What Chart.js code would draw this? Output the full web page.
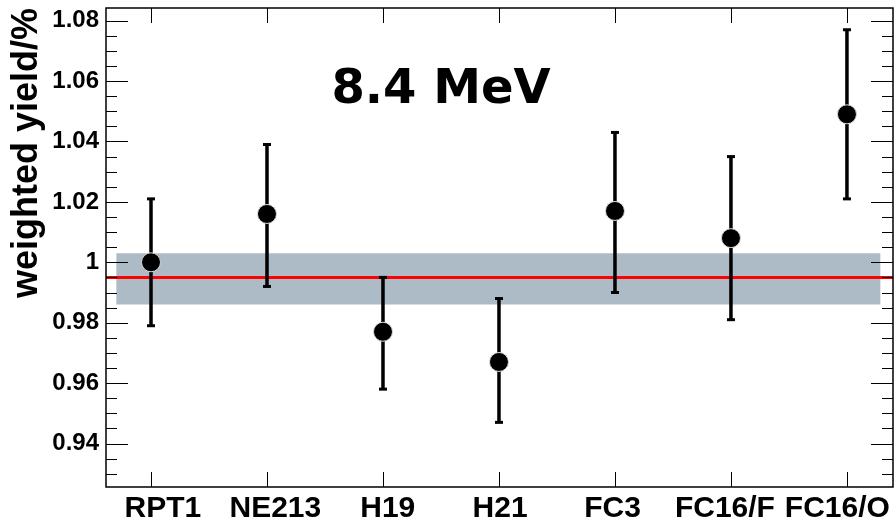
<!DOCTYPE html>
<html>
<head>
<meta charset="utf-8">
<script src="https://cdn.jsdelivr.net/npm/chart.js@4/dist/chart.umd.min.js"></script>
<style>
  body { margin: 0; background: #fff; }
  canvas { display: block; }
</style>
</head>
<body>
<canvas id="yieldChart" width="894" height="522"></canvas>
<script>
// detectors
const categories = ["RPT1", "NE213", "H19", "H21", "FC3", "FC16/F", "FC16/O"];
// weighted yield and error bar ends
const yields = [1.000, 1.016, 0.977, 0.967, 1.017, 1.008, 1.049];
const upper = [1.021, 1.039, 0.995, 0.988, 1.043, 1.035, 1.077];
const lower = [0.979, 0.992, 0.958, 0.947, 0.990, 0.981, 1.021];
// weighted mean and its uncertainty band
const meanValue = 0.995;
const bandHigh = 1.003;
const bandLow = 0.986;
const bandRange = [-0.3, 6.29];
// y axis
const yTicks = [0.94, 0.96, 0.98, 1.00, 1.02, 1.04, 1.06, 1.08];
const yTickLabels = ["0.94", "0.96", "0.98", "1", "1.02", "1.04", "1.06", "1.08"];
const yMin = 0.9256, yMax = 1.0842;
const xMin = -0.388, xMax = 6.397;
// labels sit on a slightly tighter grid than the points (as in the original)
const labelStart = 0.103, labelStep = 0.969;

const points = categories.map((c, i) => ({ x: i, y: yields[i] }));
const errBars = [];
categories.forEach((c, i) => {
  errBars.push({ x: i, y: lower[i] });
  errBars.push({ x: i, y: upper[i] });
  errBars.push({ x: i, y: null });
});

// ROOT style frame with inward ticks
const frameTicks = {
  id: "frameTicks",
  afterDatasetsDraw(chart) {
    const { ctx, chartArea: a, scales } = chart;
    const y = scales.y, x = scales.x;
    ctx.save();
    ctx.strokeStyle = "#000";
    ctx.lineWidth = 1;
    ctx.beginPath();
    for (let v = 0.93; v <= 1.0801; v += 0.005) {
      const py = Math.round(y.getPixelForValue(v)) + 0.5;
      const major = Math.abs(Math.round(v * 50) - v * 50) < 1e-6;
      const len = major ? 22 : 11;
      ctx.moveTo(a.left, py); ctx.lineTo(a.left + len, py);
      ctx.moveTo(a.right, py); ctx.lineTo(a.right - len, py);
    }
    categories.forEach((c, i) => {
      const px = Math.round(x.getPixelForValue(i)) + 0.5;
      ctx.moveTo(px, a.bottom); ctx.lineTo(px, a.bottom - 15);
      ctx.moveTo(px, a.top); ctx.lineTo(px, a.top + 15);
    });
    ctx.stroke();
    ctx.lineWidth = 1.5;
    ctx.strokeRect(a.left, a.top, a.right - a.left, a.bottom - a.top);
    ctx.fillStyle = "#000";
    ctx.font = "bold 48px 'DejaVu Sans'";
    ctx.textAlign = "center";
    ctx.textBaseline = "alphabetic";
    ctx.fillText("8.4 MeV", 441, 103);
    ctx.restore();
  }
};

const ctx = document.getElementById("yieldChart").getContext("2d");
const chart = new Chart(ctx, {
  type: "line",
  data: {
    datasets: [
      {
        data: points,
        showLine: false,
        pointRadius: 9.5,
        pointBackgroundColor: "#000",
        pointBorderColor: "#d8d8d8",
        pointBorderWidth: 1,
        order: 1,
      },
      {
        data: errBars,
        borderColor: "#000",
        borderWidth: 3.5,
        spanGaps: false,
        pointStyle: "line",
        pointRadius: 4,
        pointBorderColor: "#000",
        pointBorderWidth: 3,
        order: 2,
      },
      {
        data: [{ x: xMin, y: meanValue }, { x: xMax, y: meanValue }],
        borderColor: "#ff0000",
        borderWidth: 3,
        pointRadius: 0,
        clip: 0,
        order: 3,
      },
      {
        data: [{ x: bandRange[0], y: bandHigh }, { x: bandRange[1], y: bandHigh }],
        borderWidth: 0,
        pointRadius: 0,
        fill: "+1",
        backgroundColor: "#adbbc6",
        order: 4,
      },
      {
        data: [{ x: bandRange[0], y: bandLow }, { x: bandRange[1], y: bandLow }],
        borderWidth: 0,
        pointRadius: 0,
        order: 5,
      },
    ],
  },
  options: {
    responsive: false,
    animation: false,
    layout: { autoPadding: false, padding: { top: 8, right: 1, left: 0, bottom: 0 } },
    plugins: {
      legend: { display: false },
      tooltip: { enabled: false },
    },
    scales: {
      x: {
        type: "linear",
        min: xMin,
        max: xMax,
        grid: { display: false, drawTicks: false },
        border: { display: false },
        afterBuildTicks: (s) => {
          s.ticks = categories.map((c, i) => ({ value: labelStart + i * labelStep, label: c }));
        },
        afterFit: (s) => { s.height = 35; s.paddingLeft = 0; s.paddingRight = 0; },
        ticks: {
          autoSkip: false,
          maxRotation: 0,
          padding: 4,
          color: "#000",
          font: { family: "'Liberation Sans'", size: 30, weight: "bold" },
          callback: (v, i) => categories[i],
        },
      },
      y: {
        min: yMin,
        max: yMax,
        grid: { display: false, drawTicks: false },
        border: { display: false },
        afterBuildTicks: (s) => { s.ticks = yTicks.map((v) => ({ value: v })); },
        afterFit: (s) => { s.width = 106; s.paddingTop = 0; s.paddingBottom = 0; },
        ticks: {
          padding: 7,
          color: "#000",
          font: { family: "'Liberation Sans'", size: 24, weight: "bold" },
          callback: (v, i) => yTickLabels[i],
        },
        title: {
          display: true,
          text: "weighted yield/%",
          align: "end",
          color: "#000",
          padding: { top: 9, bottom: 0 },
          font: { family: "'Liberation Sans'", size: 36, weight: "bold", lineHeight: 1 },
        },
      },
    },
  },
  plugins: [frameTicks],
});
</script>
</body>
</html>
